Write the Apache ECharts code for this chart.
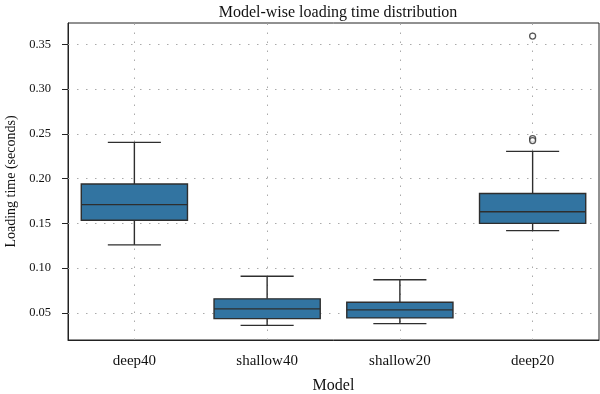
<!DOCTYPE html>
<html>
<head>
<meta charset="utf-8">
<script src="https://cdn.jsdelivr.net/npm/echarts@6/dist/echarts.min.js"></script>
<style>html,body{margin:0;padding:0;background:#fff}#c{width:600px;height:394px}</style>
</head>
<body>
<div id="c"></div>
<script>
var categories = ['deep40', 'shallow40', 'shallow20', 'deep20'];
var lowerWhisker = [0.126, 0.036, 0.038, 0.142];
var q1 = [0.1535, 0.0436, 0.0444, 0.150];
var median = [0.171, 0.0545, 0.0534, 0.163];
var q3 = [0.194, 0.0657, 0.0619, 0.1834];
var upperWhisker = [0.2406, 0.091, 0.087, 0.2305];
var outliers = [[3, 0.2448], [3, 0.2426], [3, 0.3594]];
var yTicks = [0.05, 0.10, 0.15, 0.20, 0.25, 0.30, 0.35];

var FONT = '"Liberation Serif", "DejaVu Serif", serif';
var boxData = categories.map(function (c, i) {
  return [i, lowerWhisker[i], q1[i], median[i], q3[i], upperWhisker[i]];
});

var chart = echarts.init(document.getElementById('c'), null, {renderer: 'canvas'});
var lineCol = '#2e2e2e';
chart.setOption({
  animation: false,
  title: {
    text: 'Model-wise loading time distribution',
    left: 333, textAlign: 'center', top: 0,
    textStyle: {fontFamily: FONT, fontSize: 16, fontWeight: 'normal', color: '#111'}
  },
  grid: {left: 68, right: 1, top: 23, bottom: 54, show: true, borderColor: '#222', borderWidth: 1,
    containLabel: false, outerBoundsMode: 'none'},
  xAxis: {
    type: 'category', data: categories, boundaryGap: true,
    name: 'Model', nameLocation: 'middle', nameGap: 38,
    nameTextStyle: {fontFamily: FONT, fontSize: 16, color: '#111'},
    axisLine: {lineStyle: {color: '#222', width: 1}},
    axisTick: {alignWithLabel: true, length: 6, lineStyle: {color: '#222'}},
    axisLabel: {fontFamily: FONT, fontSize: 15, color: '#111', margin: 14},
    splitLine: {show: false}
  },
  yAxis: {
    type: 'value', min: 0.0197, max: 0.374,
    name: 'Loading time (seconds)', nameLocation: 'middle', nameGap: 50,
    nameTextStyle: {fontFamily: FONT, fontSize: 14, color: '#111'},
    axisLine: {show: true, lineStyle: {color: '#222', width: 1}},
    axisTick: {show: true, length: 6, customValues: yTicks, lineStyle: {color: '#222'}},
    axisLabel: {fontFamily: FONT, fontSize: 12.5, color: '#111', margin: 17, customValues: yTicks,
      formatter: function (v) { return v.toFixed(2); }},
    splitLine: {show: false}
  },
  series: [
    {
      type: 'line', data: [], z: 1,
      markLine: {
        silent: true, symbol: 'none', z: 1, animation: false,
        label: {show: false},
        lineStyle: {color: '#aaa', type: [1.5, 7.5], width: 1},
        data: yTicks.map(function (v) { return {yAxis: v}; }).concat(
          categories.map(function (c) { return {xAxis: c}; }))
      }
    },
    {
      type: 'custom', z: 3,
      data: boxData,
      renderItem: function (params, api) {
        var x = api.value(0);
        var band = api.size([1, 0])[0];
        var hw = band * 0.4, cw = band * 0.2;
        var pLo = api.coord([x, api.value(1)]);
        var pQ1 = api.coord([x, api.value(2)]);
        var pMed = api.coord([x, api.value(3)]);
        var pQ3 = api.coord([x, api.value(4)]);
        var pHi = api.coord([x, api.value(5)]);
        var cx = pMed[0];
        var ls = {stroke: lineCol, lineWidth: 1.4};
        return {
          type: 'group',
          children: [
            {type: 'line', shape: {x1: cx, y1: pQ3[1], x2: cx, y2: pHi[1]}, style: ls},
            {type: 'line', shape: {x1: cx, y1: pQ1[1], x2: cx, y2: pLo[1]}, style: ls},
            {type: 'line', shape: {x1: cx - cw, y1: pHi[1], x2: cx + cw, y2: pHi[1]}, style: ls},
            {type: 'line', shape: {x1: cx - cw, y1: pLo[1], x2: cx + cw, y2: pLo[1]}, style: ls},
            {type: 'rect', shape: {x: cx - hw, y: pQ3[1], width: 2 * hw, height: pQ1[1] - pQ3[1]},
              style: {fill: '#3274a1', stroke: lineCol, lineWidth: 1.4}},
            {type: 'line', shape: {x1: cx - hw, y1: pMed[1], x2: cx + hw, y2: pMed[1]}, style: ls}
          ]
        };
      }
    },
    {
      type: 'scatter', z: 4,
      data: outliers,
      symbol: 'circle', symbolSize: 6,
      itemStyle: {color: '#fff', borderColor: lineCol, borderWidth: 1.3}
    }
  ]
});
</script>
</body>
</html>
